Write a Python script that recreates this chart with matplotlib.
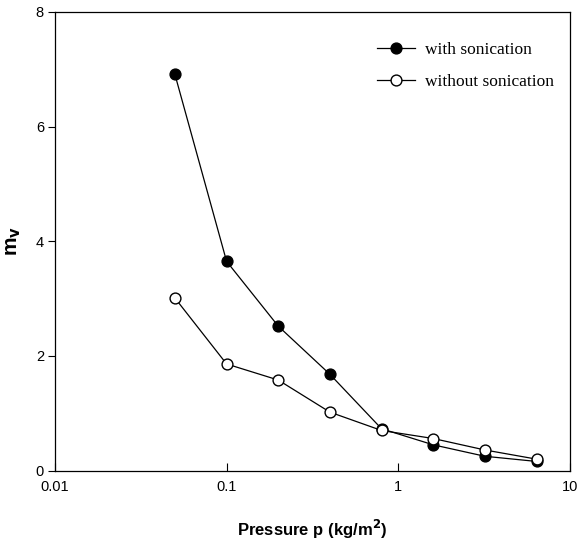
import numpy as np
import matplotlib
matplotlib.use('Agg')
import matplotlib.pyplot as plt

pressure = [0.05, 0.1, 0.2, 0.4, 0.8, 1.6, 3.2, 6.4]
with_sonication = [6.91, 3.65, 2.52, 1.68, 0.73, 0.45, 0.25, 0.16]
without_sonication = [3.01, 1.86, 1.58, 1.02, 0.70, 0.56, 0.36, 0.20]

x_ticks = [0.01, 0.1, 1, 10]
x_ticklabels = ['0.01', '0.1', '1', '10']
y_ticks = [0, 2, 4, 6, 8]

plt.rcParams['font.family'] = ['Liberation Sans', 'DejaVu Sans']

fig = plt.figure(figsize=(5.82, 5.45), dpi=100)
ax = fig.add_axes([0.0945, 0.1365, 0.8845, 0.8415])

ax.plot(pressure, with_sonication, color='black', lw=0.9, marker='o', ms=7.8,
        mfc='black', mec='black', mew=1.0, label='with sonication')
ax.plot(pressure, without_sonication, color='black', lw=0.9, marker='o', ms=7.8,
        mfc='white', mec='black', mew=1.0, label='without sonication')

ax.set_xscale('log')
ax.set_xlim(0.01, 10)
ax.set_ylim(0, 8)
ax.set_xticks(x_ticks)
ax.set_xticklabels(x_ticklabels)
ax.xaxis.set_minor_locator(matplotlib.ticker.NullLocator())
ax.set_yticks(y_ticks)
ax.tick_params(axis='x', direction='in', length=6, width=0.8, labelsize=10.5, pad=7)
ax.tick_params(axis='y', direction='out', length=5, width=0.8, labelsize=10.5, pad=3)
for s in ax.spines.values():
    s.set_linewidth(0.9)

ax.set_xlabel('Pressure p (kg/m$^\\mathbf{2}$)', fontsize=12, fontweight='bold', labelpad=17)
ax.set_ylabel('m$_\\mathbf{v}$', fontsize=15, fontweight='bold', labelpad=9)

ax.legend(loc='upper right', bbox_to_anchor=(1.0, 0.968), frameon=False,
          prop={'family': 'Liberation Serif', 'size': 12.5},
          handlelength=2.2, handletextpad=0.6, labelspacing=0.9)

fig.savefig('out.png', dpi=100)
